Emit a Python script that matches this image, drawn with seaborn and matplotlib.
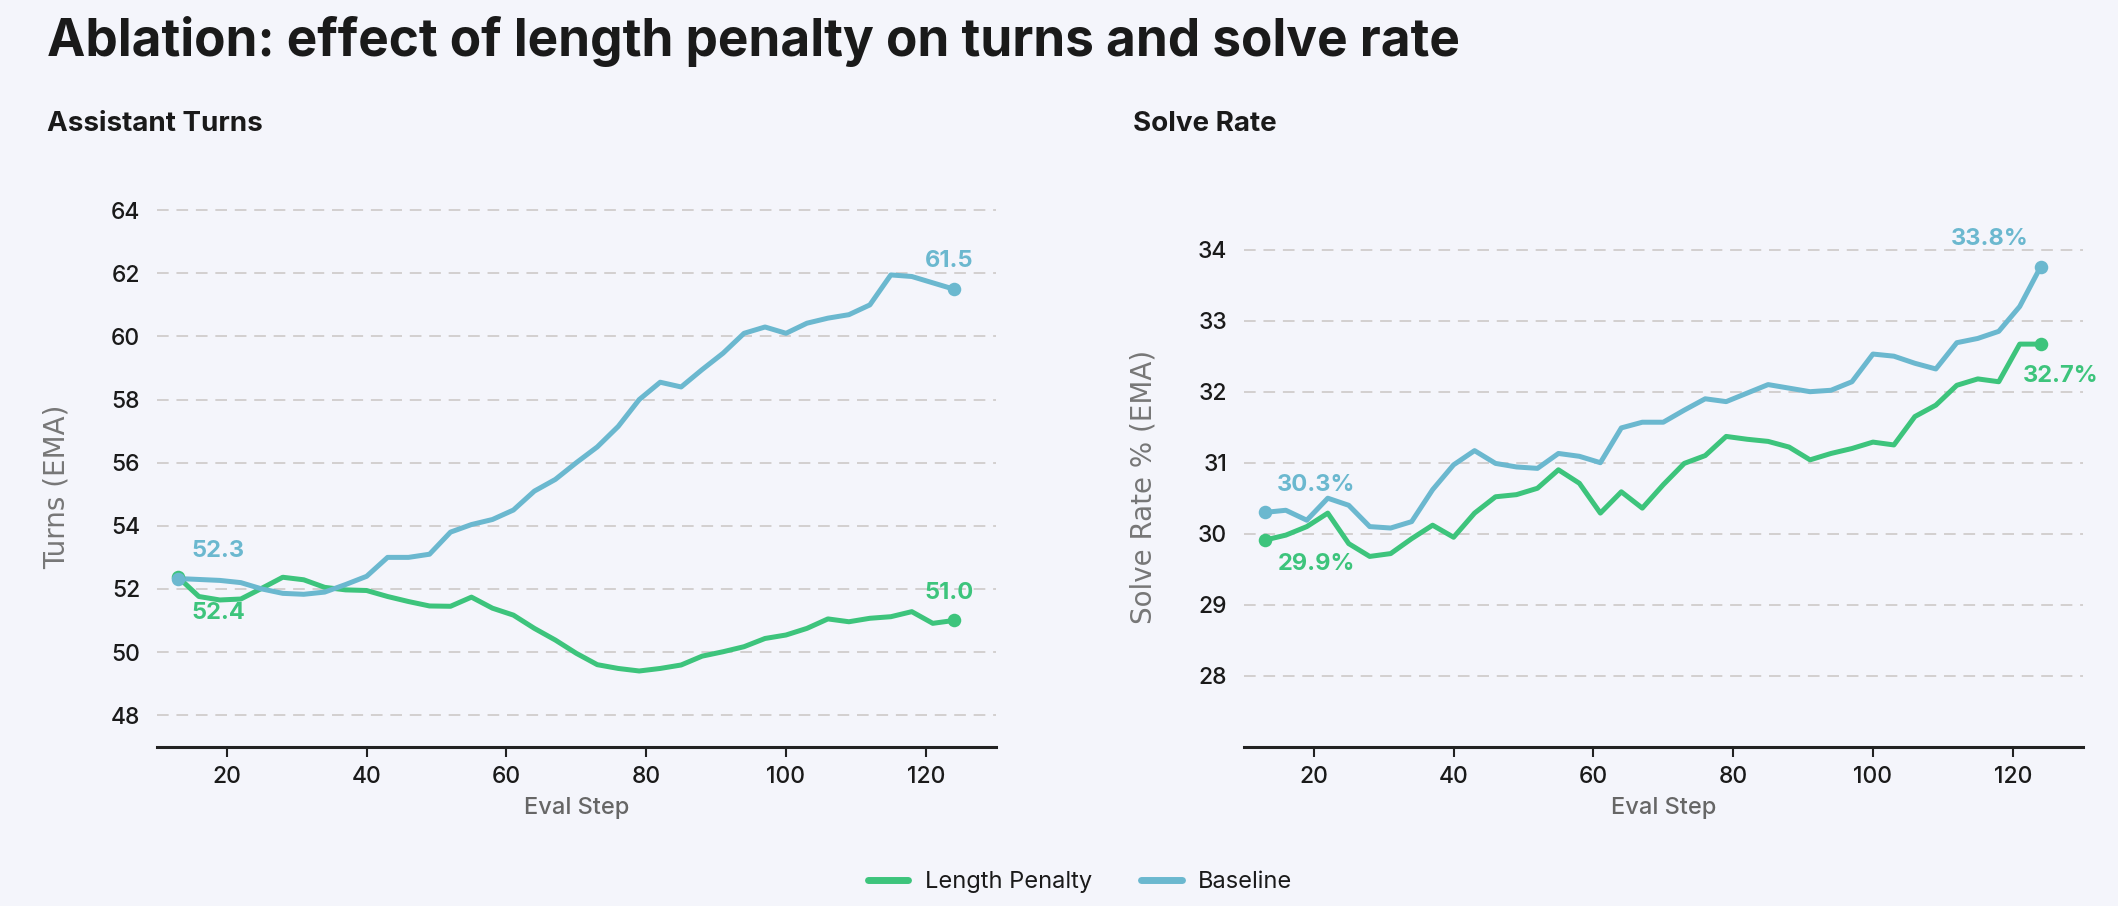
import matplotlib
matplotlib.use("Agg")
import matplotlib.pyplot as plt
import seaborn as sns
import pandas as pd
from matplotlib.lines import Line2D

# eval steps (x) shared by every series
steps = [13, 16, 19, 22, 25, 28, 31, 34, 37, 40, 43, 46, 49, 52, 55, 58, 61, 64, 67,
         70, 73, 76, 79, 82, 85, 88, 91, 94, 97, 100, 103, 106, 109, 112, 115, 118, 121, 124]

# assistant turns (EMA)
turns_penalty = [52.38, 51.76, 51.65, 51.68, 52.02, 52.37, 52.29, 52.05, 51.97, 51.95,
                 51.76, 51.60, 51.46, 51.45, 51.74, 51.39, 51.17, 50.75, 50.38, 49.96,
                 49.60, 49.48, 49.40, 49.48, 49.59, 49.87, 50.01, 50.17, 50.43, 50.54,
                 50.75, 51.05, 50.96, 51.07, 51.12, 51.28, 50.91, 51.00]
turns_baseline = [52.33, 52.30, 52.27, 52.20, 52.00, 51.86, 51.83, 51.90, 52.14, 52.40,
                  53.00, 53.00, 53.10, 53.80, 54.04, 54.20, 54.50, 55.10, 55.47, 56.00,
                  56.50, 57.15, 58.00, 58.55, 58.40, 58.95, 59.47, 60.10, 60.30, 60.10,
                  60.42, 60.58, 60.69, 61.00, 61.95, 61.90, 61.70, 61.50]

# solve rate % (EMA)
solve_penalty = [29.91, 29.98, 30.10, 30.29, 29.86, 29.68, 29.72, 29.93, 30.12, 29.95,
                 30.29, 30.52, 30.55, 30.64, 30.90, 30.71, 30.29, 30.59, 30.36, 30.69,
                 30.99, 31.10, 31.37, 31.33, 31.30, 31.22, 31.04, 31.13, 31.20, 31.29,
                 31.25, 31.65, 31.81, 32.09, 32.18, 32.14, 32.67, 32.67]
solve_baseline = [30.30, 30.33, 30.19, 30.50, 30.40, 30.10, 30.08, 30.17, 30.62, 30.97,
                  31.17, 30.99, 30.94, 30.92, 31.13, 31.09, 31.00, 31.49, 31.57, 31.57,
                  31.74, 31.90, 31.86, 31.98, 32.10, 32.05, 32.00, 32.02, 32.14, 32.53,
                  32.50, 32.40, 32.32, 32.69, 32.75, 32.85, 33.20, 33.76]

series_names = ["Length Penalty", "Baseline"]
colors = {"Length Penalty": "#3dc47c", "Baseline": "#6bb8cf"}
turns_ticks = [48, 50, 52, 54, 56, 58, 60, 62, 64]
solve_ticks = [28, 29, 30, 31, 32, 33, 34]
x_ticks = [20, 40, 60, 80, 100, 120]

BG = "#f4f5fb"
sns.set_theme(style="white")
plt.rcParams["font.family"] = ["Inter", "DejaVu Sans"]


def make_frame(penalty, baseline):
    df = pd.DataFrame({"step": steps * 2,
                       "value": penalty + baseline,
                       "series": [series_names[0]] * len(steps) + [series_names[1]] * len(steps)})
    return df


def label_point(ax, x, y, text, color, dx, dy, ha):
    ax.annotate(text, (x, y), xytext=(dx, dy), textcoords="offset points",
                ha=ha, va="center", color=color, fontsize=17, fontweight="bold")


def style_axis(ax, yticks, ylabel):
    ax.set_facecolor(BG)
    ax.set_xlim(10, 130)
    ax.set_ylim(yticks[0] - 1, yticks[-1] + 1)
    ax.set_xticks(x_ticks)
    ax.set_yticks(yticks)
    ax.yaxis.grid(True, color="#d3cfcf", linewidth=1.4, dashes=(6, 4))
    ax.xaxis.grid(False)
    for s in ["top", "right", "left"]:
        ax.spines[s].set_visible(False)
    ax.spines["bottom"].set_color("#222222")
    ax.spines["bottom"].set_linewidth(2.2)
    ax.tick_params(axis="x", length=7, width=1.5, color="#222222", pad=7,
                   labelsize=16.5, labelcolor="#1a1a1a", bottom=True)
    ax.tick_params(axis="y", length=0, pad=12, labelsize=16.5, labelcolor="#1a1a1a")
    for lab in ax.get_xticklabels() + ax.get_yticklabels():
        lab.set_fontweight("medium")
    ax.set_xlabel("Eval Step", fontsize=17, color="#666666", labelpad=6, fontweight="medium")
    ax.set_ylabel(ylabel, fontsize=20, color="#777777", family="DejaVu Sans")
    ax.yaxis.set_label_coords(-0.103, 0.457)


fig = plt.figure(figsize=(21.18, 9.06), dpi=100, facecolor=BG)
ax1 = fig.add_axes([0.0741, 0.1758, 0.396, 0.627])
ax2 = fig.add_axes([0.5873, 0.1758, 0.396, 0.627])

panels = [
    (ax1, turns_penalty, turns_baseline, turns_ticks, "Turns (EMA)"),
    (ax2, solve_penalty, solve_baseline, solve_ticks, "Solve Rate % (EMA)"),
]

for ax, pen, base, ticks, ylabel in panels:
    df = make_frame(pen, base)
    sns.lineplot(data=df, x="step", y="value", hue="series", hue_order=series_names,
                 palette=colors, linewidth=3.6, ax=ax, legend=False,
                 solid_capstyle="round", solid_joinstyle="round")
    for name, vals in zip(series_names, [pen, base]):
        ax.scatter([steps[0], steps[-1]], [vals[0], vals[-1]], s=95,
                   color=colors[name], zorder=5, linewidths=0)
    style_axis(ax, ticks, ylabel)

# start / end value labels
g, b = colors["Length Penalty"], colors["Baseline"]
label_point(ax1, steps[0], turns_baseline[0], f"{turns_baseline[0]:.1f}", b, 10, 20, "left")
label_point(ax1, steps[0], turns_penalty[0], f"{turns_penalty[0]:.1f}", g, 10, -26, "left")
label_point(ax1, steps[-1], turns_baseline[-1], f"{turns_baseline[-1]:.1f}", b, -3, 20, "center")
label_point(ax1, steps[-1], turns_penalty[-1], f"{turns_penalty[-1]:.1f}", g, -3, 20, "center")

label_point(ax2, steps[0], solve_baseline[0], f"{solve_baseline[0]:.1f}%", b, 9, 20, "left")
label_point(ax2, steps[0], solve_penalty[0], f"{solve_penalty[0]:.1f}%", g, 9, -17, "left")
label_point(ax2, steps[-1], solve_baseline[-1], f"{solve_baseline[-1]:.1f}%", b, -9, 20, "right")
label_point(ax2, steps[-1], solve_penalty[-1], f"{solve_penalty[-1]:.1f}%", g, -13, -23, "left")

# titles
fig.text(0.0222, 0.938, "Ablation: effect of length penalty on turns and solve rate",
         fontsize=37, fontweight="bold", color="#1a1a1a", ha="left", va="baseline")
fig.text(0.0222, 0.855, "Assistant Turns", fontsize=20, fontweight="bold",
         color="#1a1a1a", ha="left", va="baseline")
fig.text(0.535, 0.855, "Solve Rate", fontsize=20, fontweight="bold",
         color="#1a1a1a", ha="left", va="baseline")

handles = [Line2D([0], [0], color=colors[n], linewidth=5, solid_capstyle="round")
           for n in series_names]
fig.legend(handles, series_names, loc="center", bbox_to_anchor=(0.51, 0.0265), ncol=2,
           frameon=False, fontsize=17, handlelength=1.7, handletextpad=0.7,
           columnspacing=2.1, labelcolor="#1a1a1a")

fig.savefig("out.png", dpi=100, facecolor=BG)
